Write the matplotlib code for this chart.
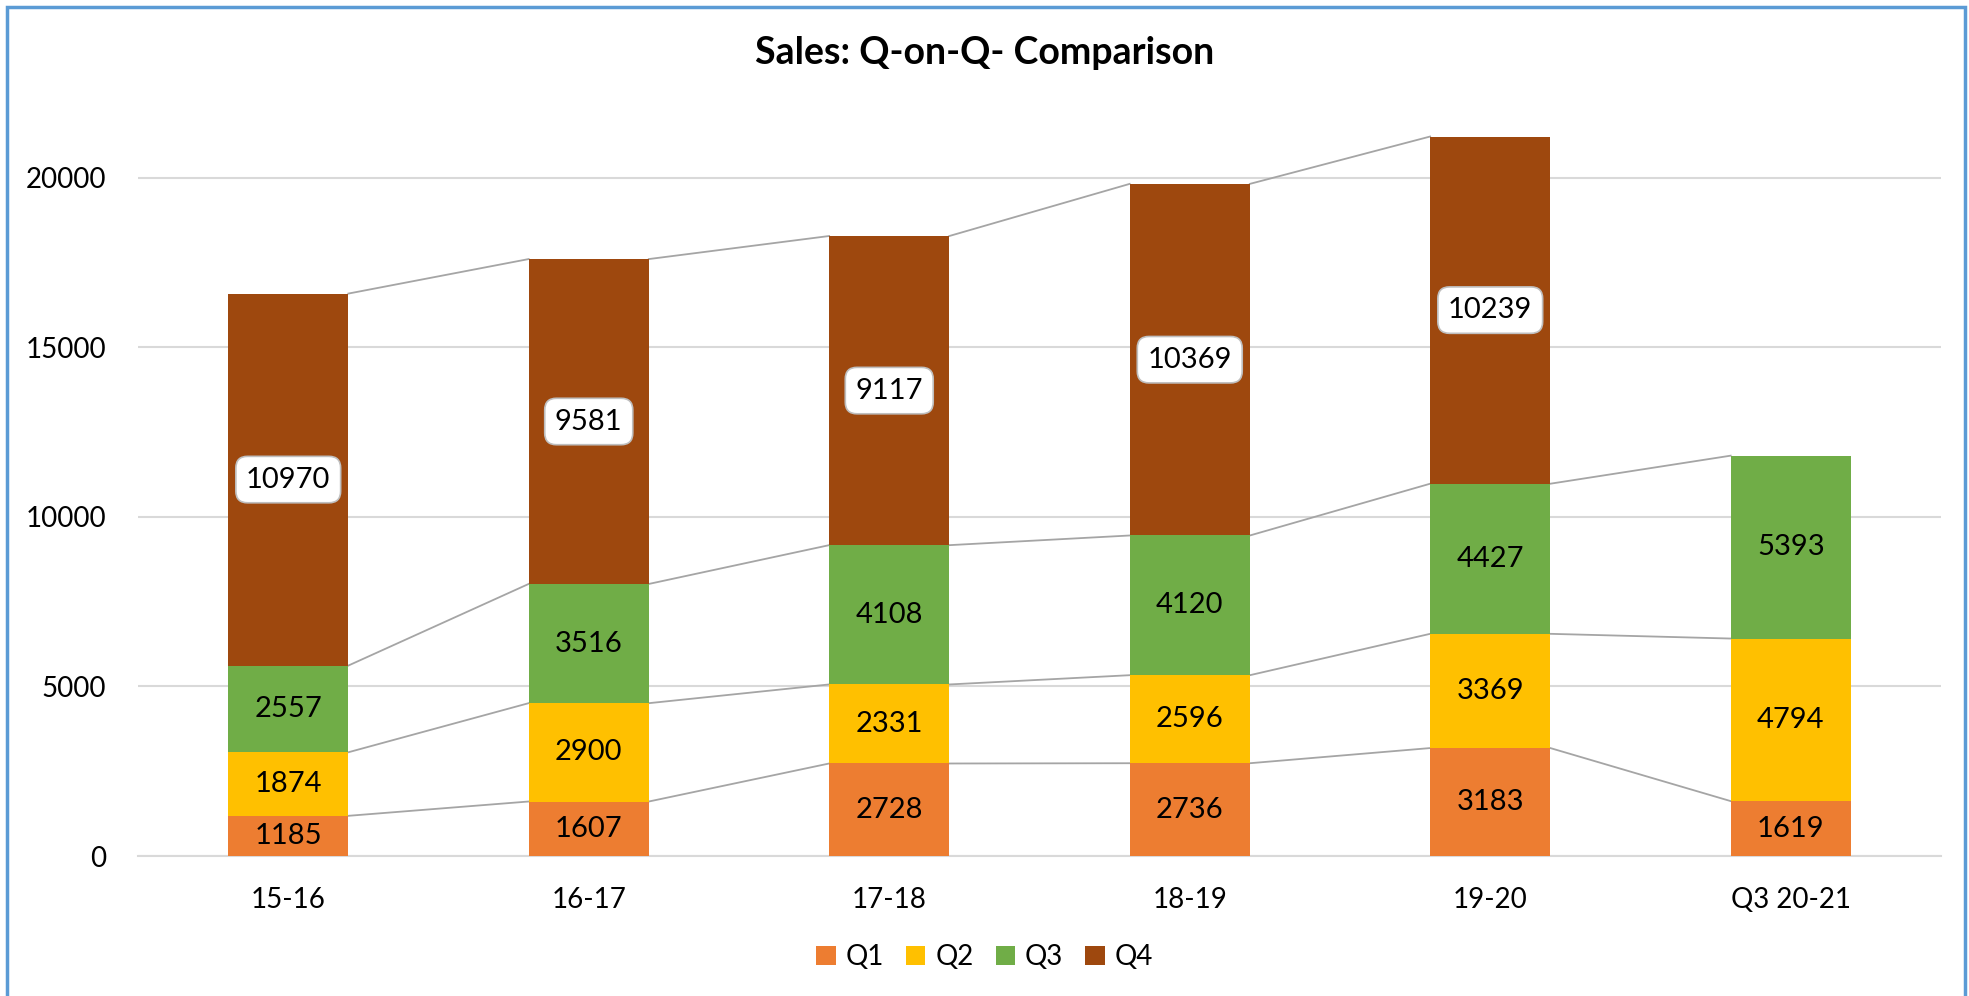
import numpy as np
import matplotlib.pyplot as plt
from matplotlib.patches import Rectangle

plt.rcParams["font.family"] = ["Lato", "DejaVu Sans"]

years = ["15-16", "16-17", "17-18", "18-19", "19-20", "Q3 20-21"]
q1 = [1185, 1607, 2728, 2736, 3183, 1619]
q2 = [1874, 2900, 2331, 2596, 3369, 4794]
q3 = [2557, 3516, 4108, 4120, 4427, 5393]
q4 = [10970, 9581, 9117, 10369, 10239, np.nan]

series = {"Q1": q1, "Q2": q2, "Q3": q3, "Q4": q4}
colors = {"Q1": "#ED7D31", "Q2": "#FFC000", "Q3": "#70AD47", "Q4": "#9E480E"}

fig = plt.figure(figsize=(19.69, 9.96), dpi=100)
ax = fig.add_axes([138 / 1969, 1 - 856 / 996, (1941 - 138) / 1969, (856 - 110) / 996])

x = np.arange(len(years))
width = 0.4
bottom = np.zeros(len(years))
for name, vals in series.items():
    v = np.array(vals, dtype=float)
    ax.bar(x, np.nan_to_num(v), width, bottom=bottom, color=colors[name], label=name, zorder=3)
    top = bottom + v
    # series lines between neighbouring bars
    for i in range(len(x) - 1):
        if np.isnan(top[i]) or np.isnan(top[i + 1]):
            continue
        ax.plot([x[i] + width / 2, x[i + 1] - width / 2], [top[i], top[i + 1]],
                color="#A5A5A5", lw=1.3, zorder=2)
    for i in range(len(x)):
        if np.isnan(v[i]):
            continue
        mid = bottom[i] + v[i] / 2
        if name == "Q4":
            ax.text(x[i], mid, f"{int(v[i])}", ha="center", va="center", fontsize=21, zorder=5,
                    bbox=dict(boxstyle="round,pad=0.35,rounding_size=0.4", fc="white", ec="#BFBFBF", lw=1.2))
        else:
            ax.text(x[i], mid, f"{int(v[i])}", ha="center", va="center", fontsize=21, zorder=5)
    bottom = bottom + np.nan_to_num(v)

ax.set_xlim(-0.5, len(years) - 0.5)
ax.set_ylim(0, 22000)
ax.set_yticks([0, 5000, 10000, 15000, 20000])
ax.set_xticks(x)
ax.set_xticklabels(years)
ax.tick_params(axis="both", length=0, labelsize=20)
ax.tick_params(axis="y", pad=23)
ax.tick_params(axis="x", pad=22)
ax.grid(axis="y", color="#D9D9D9", lw=1.5, zorder=0)
for s in ["top", "right", "left"]:
    ax.spines[s].set_visible(False)
ax.spines["bottom"].set_color("#D9D9D9")
ax.spines["bottom"].set_linewidth(1.5)

fig.text(0.5, 1 - 53 / 996, "Sales: Q-on-Q- Comparison", ha="center", va="center",
         fontsize=27, fontweight="bold")

fig.legend(loc="center", bbox_to_anchor=(0.5, 1 - 957 / 996), ncol=4, frameon=False,
           fontsize=20, handlelength=0.7, handleheight=0.7, handletextpad=0.35, columnspacing=0.8)

# chart border
fig.patches.append(Rectangle((7 / 1969, -0.01), 1958 / 1969, 1 - 7 / 996 + 0.01,
                             transform=fig.transFigure, fill=False, ec="#5B9BD5", lw=2.5))

plt.savefig("out.png", dpi=100)
